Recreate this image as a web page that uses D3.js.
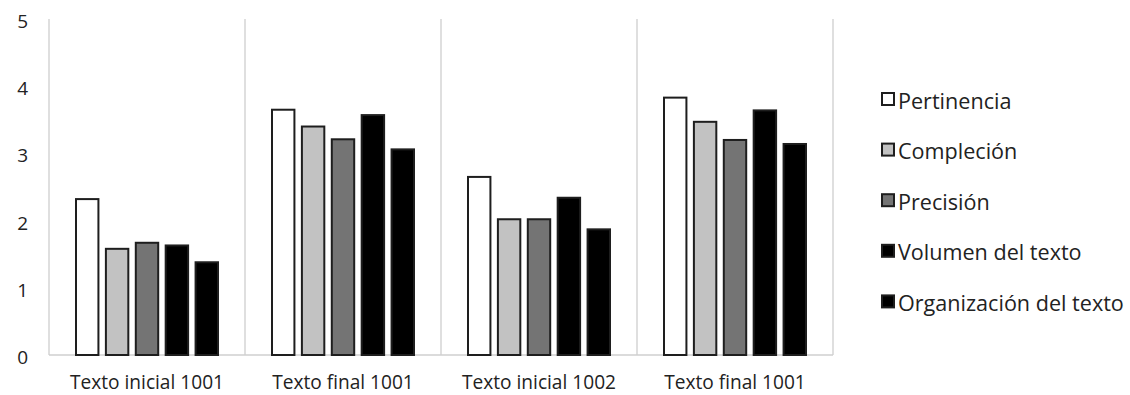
<!DOCTYPE html>
<html>
<head>
<meta charset="utf-8">
<script src="https://cdn.jsdelivr.net/npm/d3@7"></script>
<style>
  html, body { margin: 0; padding: 0; background: #fff; }
  svg { display: block; }
  text { font-family: "Open Sans", "Noto Sans", sans-serif; fill: #222; }
</style>
</head>
<body>
<svg id="chart" width="1130" height="395"></svg>
<script>
const categories = ["Texto inicial 1001", "Texto final 1001", "Texto inicial 1002", "Texto final 1001 "];
const seriesNames = ["Pertinencia", "Compleción", "Precisión", "Volumen del texto", "Organización del texto"];
const pertinencia = [2.32, 3.65, 2.65, 3.83];
const complecion  = [1.58, 3.40, 2.02, 3.47];
const precision   = [1.67, 3.21, 2.02, 3.20];
const volumen     = [1.63, 3.57, 2.34, 3.64];
const organizacion= [1.38, 3.06, 1.87, 3.14];
const yTicks = [0, 1, 2, 3, 4, 5];

const seriesValues = [pertinencia, complecion, precision, volumen, organizacion];
const colors = ["#ffffff", "#c2c2c2", "#747474", "#000000", "#000000"];

const svg = d3.select("#chart");
const plot = { left: 49, right: 833, top: 19, bottom: 355 };

const x = d3.scaleBand().domain(categories).range([plot.left, plot.right]).padding(0);
const x1 = d3.scaleBand().domain(seriesNames).range([27, x.bandwidth() - 27]).paddingInner(0.25);
const y = d3.scaleLinear().domain([0, 5]).range([plot.bottom, plot.top]);

// vertical separators
const seps = categories.map(c => x(c)).concat([plot.right]);
svg.append("g").selectAll("line").data(seps).join("line")
  .attr("x1", d => d).attr("x2", d => d)
  .attr("y1", plot.top).attr("y2", plot.bottom)
  .attr("stroke", "#d4d4d4").attr("stroke-width", 1.5);

// baseline
svg.append("line")
  .attr("x1", plot.left).attr("x2", plot.right)
  .attr("y1", plot.bottom).attr("y2", plot.bottom)
  .attr("stroke", "#cfcfcf").attr("stroke-width", 1.5);

// y tick labels
svg.append("g").selectAll("text").data(yTicks).join("text")
  .attr("x", 28).attr("y", d => y(d) + 2)
  .attr("text-anchor", "end").attr("dominant-baseline", "central")
  .style("font-size", "19px")
  .text(d => d);

// bars
const groups = svg.append("g").selectAll("g").data(categories).join("g")
  .attr("transform", c => `translate(${x(c)},0)`);
groups.selectAll("rect").data((c, ci) => seriesNames.map((s, si) => ({ s, si, v: seriesValues[si][ci] })))
  .join("rect")
  .attr("x", d => x1(d.s))
  .attr("width", x1.bandwidth())
  .attr("y", d => y(d.v))
  .attr("height", d => y(0) - y(d.v))
  .attr("fill", d => colors[d.si])
  .attr("stroke", "#1e1e1e").attr("stroke-width", 2);

// x labels
const xl = svg.append("g").selectAll("text").data(categories).join("text")
  .attr("x", c => x(c) + x.bandwidth() / 2)
  .attr("y", 389)
  .attr("text-anchor", "middle")
  .style("font-size", "18px")
  .text(c => c.trim());
// fit width of first label to reference (~154px)
{
  const w = xl.node().getComputedTextLength();
  xl.style("font-size", (18 * 154 / w).toFixed(2) + "px");
}

// legend
const lg = svg.append("g").selectAll("g").data(seriesNames).join("g")
  .attr("transform", (d, i) => `translate(881, ${99 + i * 50.6})`);
lg.append("rect")
  .attr("x", 1).attr("y", -6).attr("width", 12).attr("height", 12)
  .attr("fill", (d, i) => colors[i])
  .attr("stroke", "#1e1e1e").attr("stroke-width", 2);
const lt = lg.append("text")
  .attr("x", 17).attr("y", 1)
  .attr("dominant-baseline", "central")
  .style("font-size", "19px")
  .text(d => d);
{
  const w = lt.nodes()[4].getComputedTextLength();
  lt.style("font-size", (19 * 226 / w).toFixed(2) + "px");
}
</script>
</body>
</html>
